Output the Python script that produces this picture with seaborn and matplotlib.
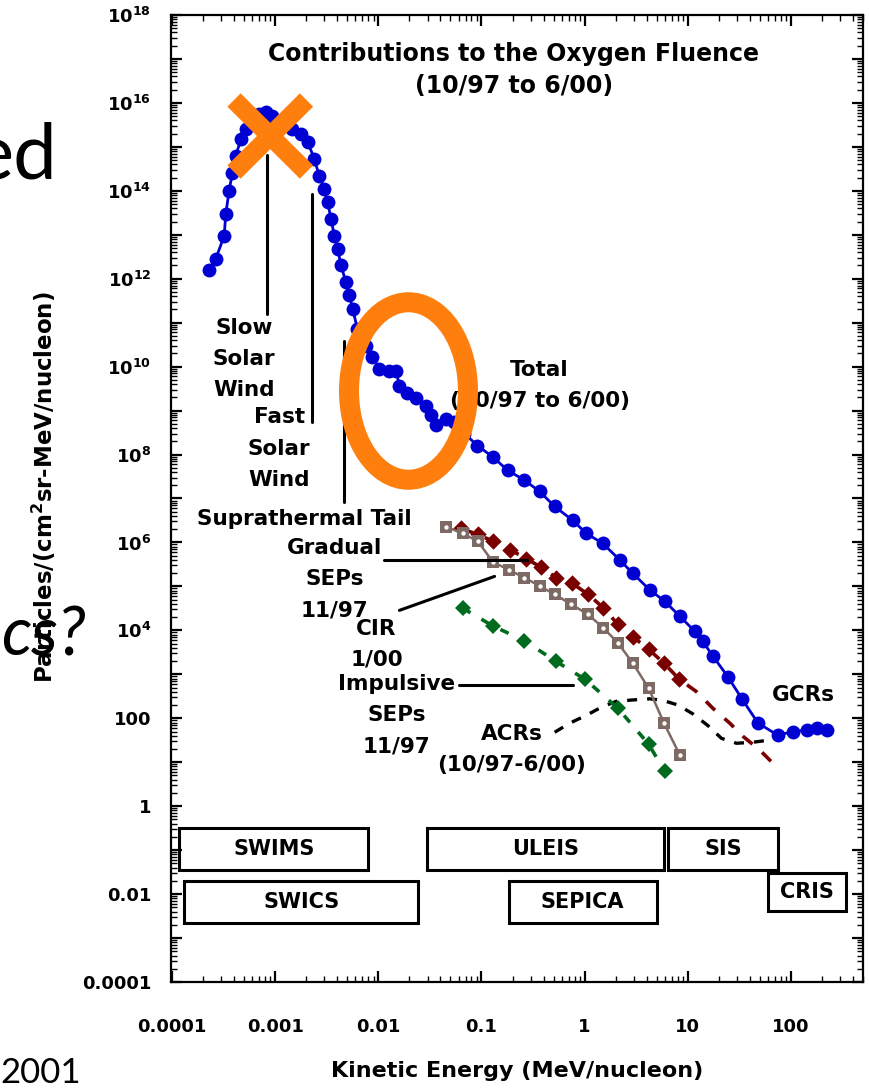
import matplotlib
matplotlib.use("Agg")
import matplotlib.pyplot as plt
import seaborn as sns
from matplotlib.patches import Rectangle, Ellipse
from matplotlib.lines import Line2D
from matplotlib.ticker import FixedLocator, FuncFormatter, NullFormatter
import math

# ---------------- data ----------------
total_E = [2.29e-4, 2.65e-4, 3.20e-4, 3.32e-4, 3.57e-4, 3.85e-4, 4.15e-4, 4.65e-4, 5.19e-4, 6.03e-4,
           7.0e-4, 8.1e-4, 9.4e-4, 1.18e-3, 1.47e-3, 1.77e-3, 2.06e-3, 2.39e-3, 2.67e-3, 2.99e-3,
           3.22e-3, 3.48e-3, 3.74e-3, 4.03e-3, 4.35e-3, 4.85e-3, 5.22e-3, 5.64e-3, 6.25e-3, 7.59e-3,
           8.75e-3, 1.02e-2, 1.28e-2, 1.49e-2, 1.60e-2, 1.91e-2, 2.32e-2, 2.90e-2, 3.27e-2, 3.63e-2,
           4.54e-2, 5.47e-2, 6.84e-2, 9.14e-2, 0.128, 0.179, 0.261, 0.366, 0.512, 0.764,
           1.04, 1.50, 2.19, 2.92, 4.28, 5.98, 8.36, 11.7, 14.0, 17.5,
           24.4, 33.4, 47.9, 74.8, 104, 143, 179, 224]
total_F = [1.55e12, 2.8e12, 9.5e12, 3.0e13, 1.0e14, 2.6e14, 6.3e14, 1.5e15, 2.6e15, 4.0e15,
           5.6e15, 6.2e15, 5.1e15, 3.3e15, 2.6e15, 2.0e15, 1.3e15, 5.4e14, 2.2e14, 1.1e14,
           5.5e13, 2.3e13, 9.5e12, 4.8e12, 2.0e12, 8.3e11, 4.2e11, 2.1e11, 7.3e10, 3.0e10,
           1.7e10, 8.9e9, 8.1e9, 7.8e9, 3.7e9, 2.5e9, 1.9e9, 1.3e9, 8.1e8, 4.7e8,
           6.6e8, 5.6e8, 3.0e8, 1.6e8, 8.9e7, 4.4e7, 2.6e7, 1.45e7, 6.6e6, 3.2e6,
           1.6e6, 9.5e5, 4.0e5, 2.0e5, 8.3e4, 4.6e4, 2.1e4, 9.5e3, 5.6e3, 2.6e3,
           890, 280, 78, 41, 50, 54, 59, 54]

gradual_E = [0.0635, 0.092, 0.129, 0.187, 0.272, 0.380, 0.531, 0.760, 1.08, 1.51,
             2.10, 2.94, 4.18, 5.89, 8.24]
gradual_F = [2.08e6, 1.52e6, 1.07e6, 6.9e5, 4.3e5, 2.7e5, 1.58e5, 1.17e5, 6.6e4, 3.3e4,
             1.37e4, 7.1e3, 3.7e3, 1.78e3, 780]
gradual_ext_E = [12.1, 17.5, 25.6, 34.2, 50.0, 74.8]
gradual_ext_F = [405, 169, 77, 39, 18.8, 7.3]

cir_E = [0.0454, 0.0658, 0.092, 0.129, 0.183, 0.261, 0.366, 0.512, 0.743, 1.08,
         1.51, 2.10, 2.94, 4.18, 5.89, 8.36]
cir_F = [2.28e6, 1.60e6, 1.07e6, 3.6e5, 2.4e5, 1.58e5, 1.02e5, 6.6e4, 3.9e4, 2.3e4,
         1.15e4, 5.2e3, 1.78e3, 480, 77, 14.7]

impulsive_E = [0.0658, 0.129, 0.261, 0.522, 1.01, 2.10, 4.18, 5.98]
impulsive_F = [3.2e4, 1.26e4, 5.8e3, 2.0e3, 770, 169, 25.6, 6.2]

acr_E = [0.512, 0.714, 1.04, 1.45, 2.03, 2.92, 4.28, 5.71, 8.05, 11.2,
         15.7, 21.2, 29.7, 42.8, 59.8, 74.8]
acr_F = [48, 77, 117, 178, 243, 261, 277, 256, 200, 126,
         68, 35, 27, 28.5, 31.6, 35]

instruments = ["SWIMS", "SWICS", "ULEIS", "SEPICA", "SIS", "CRIS"]
inst_Emin = [1.17e-4, 1.31e-4, 0.0299, 0.183, 6.4, 59.8]
inst_Emax = [8.0e-3, 0.0244, 5.85, 5.0, 74.8, 342]
inst_Ftop = [0.316, 0.0197, 0.316, 0.0197, 0.316, 0.030]
inst_Fbot = [0.0356, 0.00219, 0.0356, 0.00219, 0.0356, 0.0041]

y_exponents = list(range(-4, 19))
x_ticks = [1e-4, 1e-3, 1e-2, 0.1, 1, 10, 100]
x_labels = ["0.0001", "0.001", "0.01", "0.1", "1", "10", "100"]

# ---------------- figure ----------------
sns.set_theme(style="white")
plt.rcParams["font.family"] = ["DejaVu Sans"]
for k in ["text.color", "axes.labelcolor", "xtick.color", "ytick.color", "axes.edgecolor"]:
    plt.rcParams[k] = "black"

W, H = 869, 1091
fig = plt.figure(figsize=(W / 100, H / 100), dpi=100)
fig.patch.set_facecolor("white")
ax = fig.add_axes([170.7 / W, 1 - 982 / H, (863 - 170.7) / W, (982 - 15) / H])
ax.set_xscale("log")
ax.set_yscale("log")
ax.set_xlim(9.7e-5, 500)
ax.set_ylim(1e-4, 1e18)

BLUE = "#0000D2"
DRED = "#7A0000"
BROWN = "#7E6A64"
GREEN = "#006B1E"

# Total
sns.lineplot(x=total_E, y=total_F, ax=ax, sort=False, estimator=None, color=BLUE,
             linewidth=2.0, marker="o", markersize=10, markeredgewidth=0, zorder=5)

# Gradual SEPs: dashed line through markers and extension
sns.lineplot(x=gradual_E + gradual_ext_E, y=gradual_F + gradual_ext_F, ax=ax, sort=False,
             estimator=None, color=DRED, linewidth=2.6, zorder=3)
ax.lines[-1].set_dashes((3.5, 3.5))
sns.scatterplot(x=gradual_E, y=gradual_F, ax=ax, color=DRED, marker="D", s=70,
                linewidth=0, zorder=4)

# CIR
sns.lineplot(x=cir_E, y=cir_F, ax=ax, sort=False, estimator=None, color=BROWN,
             linewidth=1.8, marker="s", markersize=8, markeredgewidth=0, zorder=4)
sns.scatterplot(x=cir_E, y=cir_F, ax=ax, color="white", marker="o", s=10,
                linewidth=0, zorder=4.5)

# Impulsive SEPs
sns.lineplot(x=impulsive_E, y=impulsive_F, ax=ax, sort=False, estimator=None, color=GREEN,
             linewidth=2.6, marker="D", markersize=8.5, markeredgewidth=0, zorder=4)
ax.lines[-1].set_dashes((2.5, 3.5))

# ACRs
sns.lineplot(x=acr_E, y=acr_F, ax=ax, sort=False, estimator=None, color="black",
             linewidth=2.4, zorder=3)
ax.lines[-1].set_dashes((3.0, 3.0))

# Instrument boxes
for name, e0, e1, f0, f1 in zip(instruments, inst_Emin, inst_Emax, inst_Ftop, inst_Fbot):
    ax.add_patch(Rectangle((e0, f1), e1 - e0, f0 - f1, fill=False, edgecolor="black",
                           linewidth=2.2, zorder=6))
    ax.text((e0 * e1) ** 0.5, (f0 * f1) ** 0.5, name, ha="center", va="center",
            fontsize=15, fontweight="bold", color="black", zorder=7)

# Annotation lines
ann = dict(color="black", linewidth=2.2, zorder=6)
ax.plot([8.36e-4, 8.36e-4], [6.6e14, 1.6e11], **ann)
ax.plot([2.26e-3, 2.26e-3], [8.5e13, 5.6e8], **ann)
ax.plot([4.62e-3, 4.62e-3], [3.9e10, 8.5e6], **ann)
ax.plot([0.0114, 0.274], [3.9e5, 3.9e5], **ann)
ax.plot([0.016, 0.134], [2.85e4, 1.69e5], **ann)
ax.plot([0.0611, 0.764], [562, 562], **ann)

tk = dict(ha="center", va="center", fontsize=15.5, fontweight="bold", linespacing=1.7,
          color="black", zorder=7)
ax.text(5.0e-4, 1.5e10, "Slow\nSolar\nWind", **tk)
ax.text(1.09e-3, 1.37e8, "Fast\nSolar\nWind", **tk)
ax.text(1.91e-3, 3.5e6, "Suprathermal Tail", **tk)
ax.text(3.74e-3, 1.44e5, "Gradual\nSEPs\n11/97", **tk)
ax.text(9.57e-3, 4.8e3, "CIR\n1/00", **tk)
ax.text(0.0150, 117, "Impulsive\nSEPs\n11/97", **tk)
ax.text(0.195, 19.7, "ACRs\n(10/97-6/00)", **tk)
ax.text(131, 333, "GCRs", **tk)
ax.text(0.366, 3.7e9, "Total\n(10/97 to 6/00)", **tk)
ax.text(0.205, 5.6e16, "Contributions to the Oxygen Fluence\n(10/97 to 6/00)",
        ha="center", va="center", fontsize=17, fontweight="bold", linespacing=1.45,
        color="black", zorder=7)

# Axes styling
for s in ax.spines.values():
    s.set_linewidth(1.6)
    s.set_color("black")

def ylab(v, pos):
    e = int(round(math.log10(v)))
    if e % 2:
        return ""
    if e >= 4:
        return r"$\mathbf{10^{%d}}$" % e
    return {2: "100", 0: "1", -2: "0.01", -4: "0.0001"}[e]

ax.yaxis.set_major_locator(FixedLocator([10.0 ** e for e in y_exponents]))
ax.yaxis.set_major_formatter(FuncFormatter(ylab))
ax.yaxis.set_minor_locator(FixedLocator([m * 10.0 ** e for e in y_exponents[:-1] for m in range(2, 10)]))
ax.yaxis.set_minor_formatter(NullFormatter())

ax.xaxis.set_major_locator(FixedLocator(x_ticks))
ax.set_xticklabels(x_labels)
ax.xaxis.set_minor_locator(FixedLocator([m * 10.0 ** e for e in range(-5, 3) for m in range(2, 10)]))
ax.xaxis.set_minor_formatter(NullFormatter())

ax.tick_params(which="both", direction="in", top=True, right=True, bottom=True, left=True,
               color="black", labelcolor="black")
ax.tick_params(which="major", length=8, width=1.6)
ax.tick_params(which="minor", length=4, width=1.0)
ax.tick_params(axis="y", which="major", pad=14, labelsize=13)
ax.tick_params(axis="x", which="major", pad=26, labelsize=13)
for lab in ax.get_xticklabels() + ax.get_yticklabels():
    lab.set_fontweight("bold")

ax.set_xlabel("Kinetic Energy (MeV/nucleon)", fontsize=16, fontweight="bold", labelpad=18,
              color="black")
ax.set_ylabel(r"Particles/(cm$^{\mathbf{2}}$sr-MeV/nucleon)", fontsize=16.5, fontweight="bold",
              color="black")
ax.yaxis.set_label_coords((58 - 170.7) / (863 - 170.7), 1 - (487 - 15) / (982 - 15))

# ---------------- slide overlay ----------------
def fx(px):
    return px / W

def fy(py):
    return 1 - py / H

ORANGE = "#FF7F0E"
fig.add_artist(Line2D([fx(234), fx(306.5)], [fy(100), fy(172)], color=ORANGE, linewidth=13.5,
                      solid_capstyle="butt", zorder=20))
fig.add_artist(Line2D([fx(306.5), fx(234)], [fy(100), fy(172)], color=ORANGE, linewidth=13.5,
                      solid_capstyle="butt", zorder=20))
fig.add_artist(Ellipse((fx(408.5), fy(391)), 119 / W, 177.5 / H, fill=False, edgecolor=ORANGE,
                       linewidth=14.4, zorder=20))

fig.text(fx(57), fy(179), "ed", fontsize=56, family="Lato", ha="right", va="baseline",
         color="black", zorder=21)
fig.text(fx(86), fy(656), "cs?", fontsize=48, family="Lato", style="italic", ha="right",
         va="baseline", color="black", zorder=21)
fig.text(fx(0), fy(1083), "2001", fontsize=25, family="Lato", ha="left", va="baseline",
         color="black", zorder=21)

fig.savefig("out.png", dpi=100, facecolor="white")
